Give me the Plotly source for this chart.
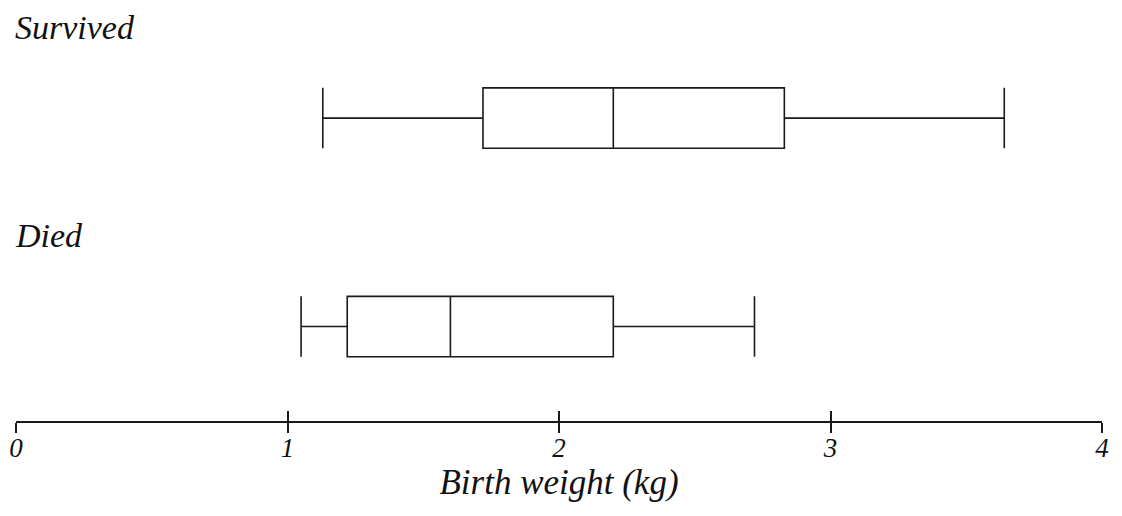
import plotly.graph_objects as go

groups = ["Survived", "Died"]
positions = [1, 0]
lower = [1.13, 1.05]
q1 = [1.72, 1.22]
median = [2.20, 1.60]
q3 = [2.83, 2.20]
upper = [3.64, 2.72]
tick_vals = [0, 1, 2, 3, 4]
tick_text = ["0", "1", "2", "3", "4"]

FONT = "Times New Roman, Liberation Serif, serif"
INK = "#1a1a1a"

fig = go.Figure()
for g, p, lo, a, m, b, hi in zip(groups, positions, lower, q1, median, q3, upper):
    fig.add_trace(go.Box(
        name=g, y=[p], q1=[a], median=[m], q3=[b],
        lowerfence=[lo], upperfence=[hi],
        orientation="h", width=0.29, whiskerwidth=1,
        boxpoints=False, fillcolor="white",
        line=dict(color=INK, width=1.6),
        showlegend=False, hoverinfo="skip",
    ))
    fig.add_annotation(
        text=g, xref="paper", x=0, xanchor="left", xshift=-3,
        yref="y", y=p + 0.435, yanchor="middle", showarrow=False,
        font=dict(family=FONT, size=34, color="#111111", style="italic"),
    )

fig.update_layout(
    width=1122, height=516,
    margin=dict(l=8, r=28, t=0, b=103),
    paper_bgcolor="white", plot_bgcolor="white",
    xaxis=dict(
        range=[0, 4], tickvals=tick_vals, ticktext=tick_text,
        showgrid=False, zeroline=False, showline=True,
        linecolor=INK, linewidth=1.6,
        ticks="outside", ticklen=10, tickwidth=1.6, tickcolor=INK,
        ticklabelstandoff=-8,
        tickfont=dict(family=FONT, size=27, color="#111111", style="italic"),
        title=dict(text="Birth weight (kg)", standoff=0,
                   font=dict(family=FONT, size=35, color="#111111", style="italic")),
    ),
    xaxis2=dict(
        range=[0, 4], tickvals=tick_vals, overlaying="x", anchor="y",
        side="bottom", showticklabels=False, showgrid=False, zeroline=False,
        ticks="inside", ticklen=10, tickwidth=1.6, tickcolor=INK, showline=False,
    ),
    yaxis=dict(range=[-0.453, 1.528], visible=False),
)
# invisible trace to activate xaxis2
fig.add_trace(go.Scatter(x=[0], y=[-1], xaxis="x2", mode="markers",
                         marker=dict(opacity=0), showlegend=False, hoverinfo="skip"))

fig.write_html("out.html")
